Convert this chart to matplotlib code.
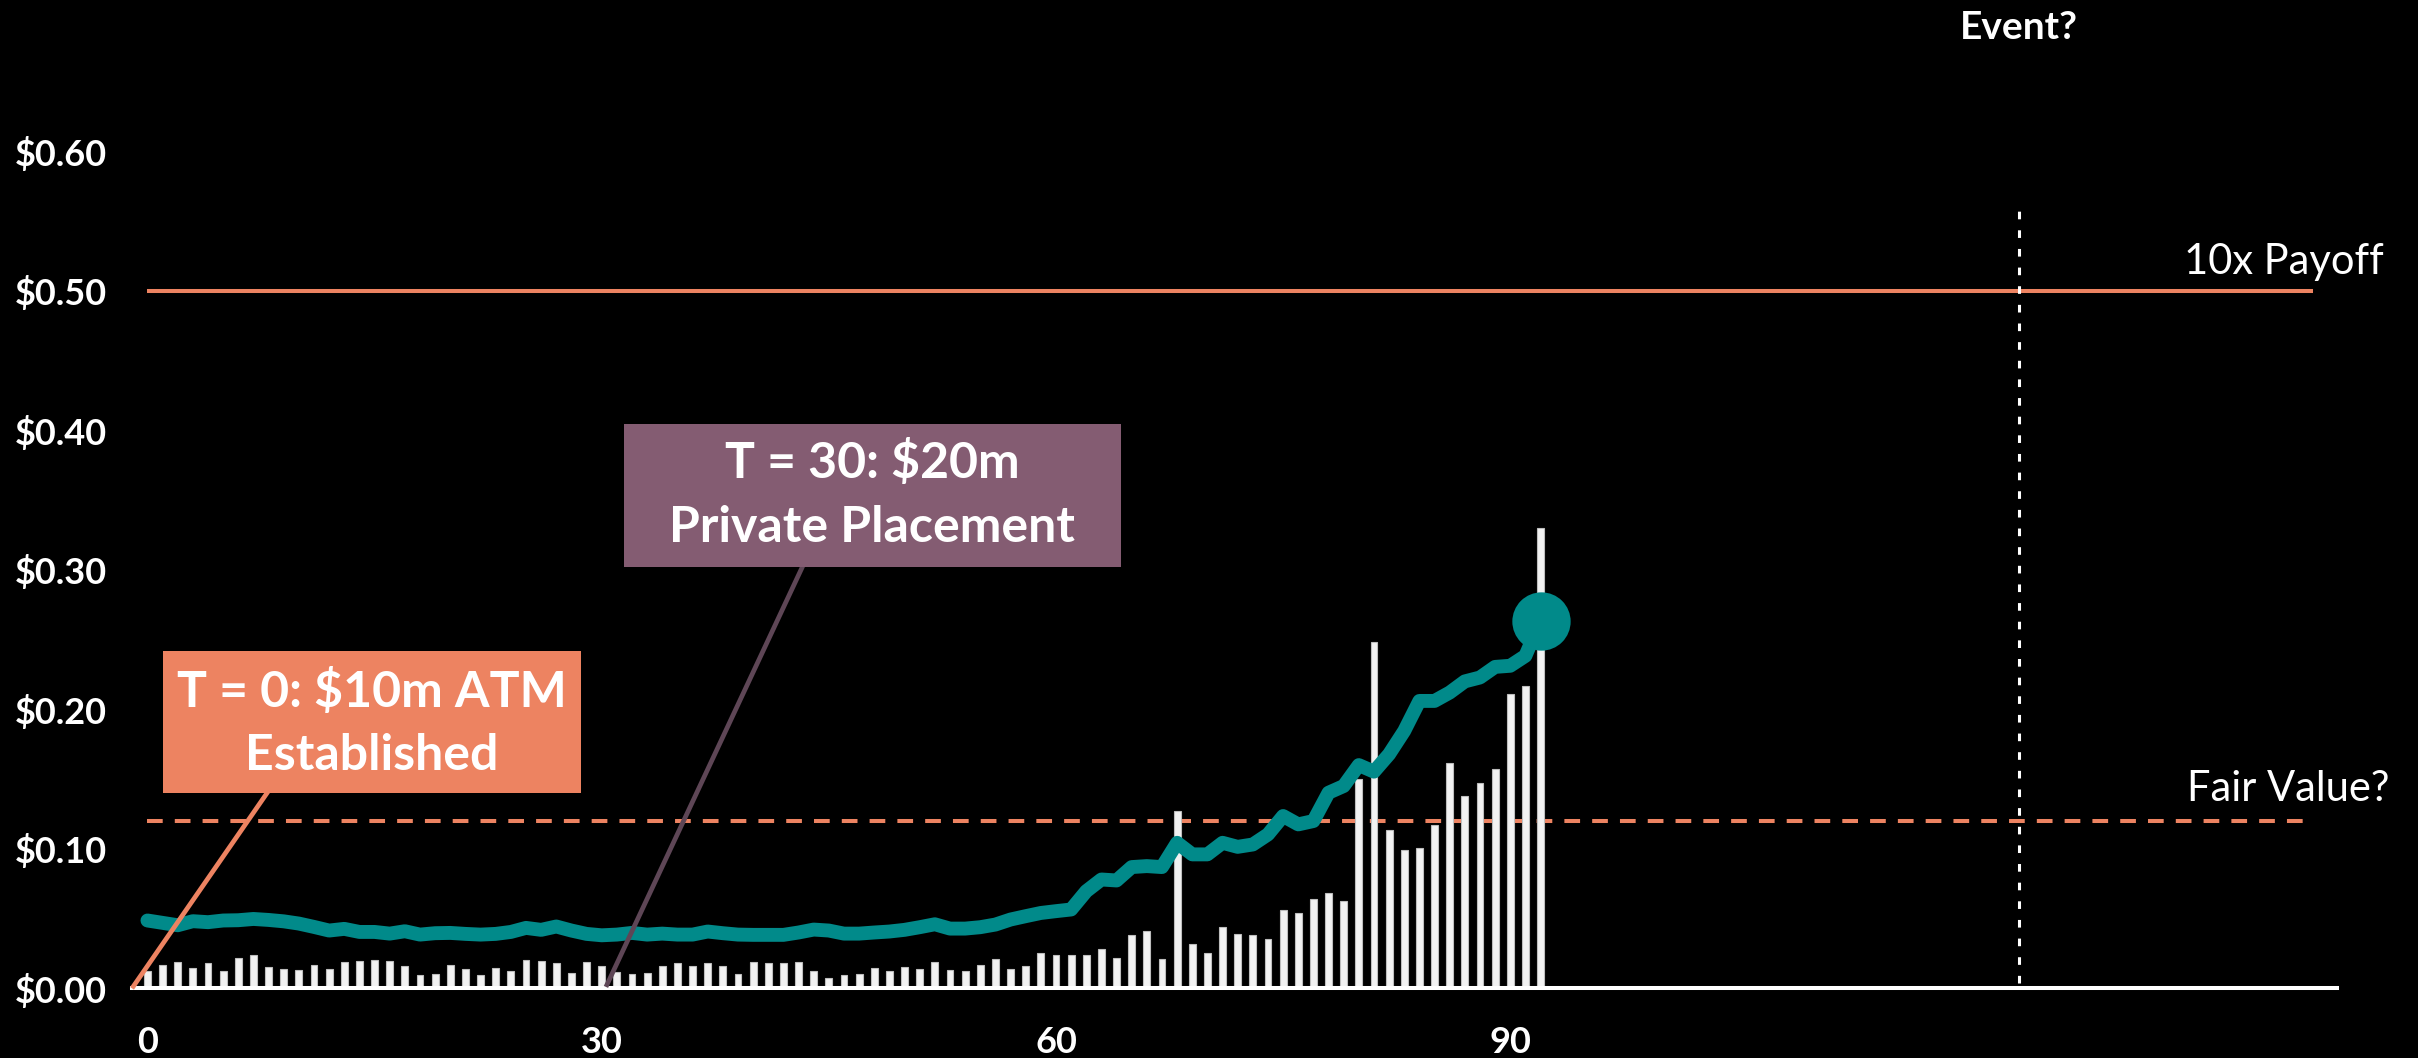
import matplotlib
matplotlib.use("Agg")
import matplotlib.pyplot as plt
from matplotlib.patches import Rectangle

plt.rcParams['font.family'] = ['Lato', 'DejaVu Sans']

# ---------------- data ----------------
days = list(range(93))
price = [0.0486, 0.0469, 0.0452, 0.0481, 0.0474, 0.0486, 0.0488, 0.0497, 0.0490, 0.0480,
         0.0464, 0.0440, 0.0414, 0.0426, 0.0404, 0.0404, 0.0392, 0.0409, 0.0385, 0.0395,
         0.0397, 0.0390, 0.0385, 0.0390, 0.0404, 0.0433, 0.0419, 0.0443, 0.0414, 0.0390,
         0.0380, 0.0385, 0.0397, 0.0385, 0.0392, 0.0385, 0.0385, 0.0407, 0.0395, 0.0385,
         0.0383, 0.0383, 0.0383, 0.0400, 0.0421, 0.0414, 0.0392, 0.0392, 0.0400, 0.0407,
         0.0419, 0.0438, 0.0459, 0.0428, 0.0428, 0.0438, 0.0457, 0.0493, 0.0517, 0.0540,
         0.0553, 0.0565, 0.0696, 0.0780, 0.0773, 0.0869, 0.0876, 0.0869, 0.1043, 0.0960,
         0.0960, 0.1043, 0.1014, 0.1031, 0.1103, 0.1235, 0.1175, 0.1199, 0.1402, 0.1450,
         0.1600, 0.1553, 0.1678, 0.1845, 0.2060, 0.2060, 0.2120, 0.2200, 0.2228, 0.2304,
         0.2312, 0.2383, 0.2635]
volume = [0.0127, 0.0167, 0.0189, 0.0148, 0.0180, 0.0124, 0.0215, 0.0239, 0.0156, 0.0141,
          0.0132, 0.0167, 0.0141, 0.0187, 0.0199, 0.0201, 0.0196, 0.0160, 0.0096, 0.0101,
          0.0167, 0.0141, 0.0096, 0.0148, 0.0124, 0.0206, 0.0194, 0.0180, 0.0112, 0.0191,
          0.0158, 0.0115, 0.0103, 0.0108, 0.0160, 0.0182, 0.0158, 0.0182, 0.0160, 0.0103,
          0.0191, 0.0182, 0.0182, 0.0187, 0.0122, 0.0077, 0.0096, 0.0105, 0.0148, 0.0124,
          0.0153, 0.0141, 0.0191, 0.0134, 0.0127, 0.0165, 0.0211, 0.0139, 0.0158, 0.0251,
          0.0242, 0.0242, 0.0239, 0.0282, 0.0218, 0.0383, 0.0414, 0.0210, 0.1273, 0.0321,
          0.0251, 0.0440, 0.0390, 0.0383, 0.0354, 0.0562, 0.0538, 0.0641, 0.0680, 0.0625,
          0.1500, 0.2480, 0.1137, 0.0991, 0.1003, 0.1173, 0.1615, 0.1380, 0.1470, 0.1575,
          0.2108, 0.2170, 0.3300]

y_ticks = [0.0, 0.1, 0.2, 0.3, 0.4, 0.5, 0.6]
y_tick_labels = ["$0.00", "$0.10", "$0.20", "$0.30", "$0.40", "$0.50", "$0.60"]
x_ticks = [0, 30, 60, 90]
x_tick_labels = ["0", "30", "60", "90"]

payoff_level = 0.50
fair_value_level = 0.12
ref_line_days = [0, 143]
event_day = 123.6
event_line_top = 0.56

# ---------------- style ----------------
TEAL = '#018A8A'
SALMON = '#ED8361'
MAUVE = '#845C72'
MAUVE_DARK = '#5E4656'
WHITE = 'white'

W, H = 2418, 1058
fig = plt.figure(figsize=(W / 100, H / 100), dpi=100, facecolor='black')
ax = fig.add_axes([132 / W, 69.7 / H, 2205 / W, 0.65 * 1395 / H])
ax.set_facecolor('black')
ax.set_xlim(-1.02, 144.6)
ax.set_ylim(0, 0.65)

# reference lines
ax.plot(ref_line_days, [payoff_level] * 2, color=SALMON, lw=2.9, zorder=2,
        solid_capstyle='butt')
ax.plot(ref_line_days, [fair_value_level] * 2, color=SALMON, lw=2.9, zorder=2,
        dashes=(3.9, 3.0), dash_capstyle='butt')
ax.plot([event_day] * 2, [0.004, event_line_top], color=WHITE, lw=2.2, zorder=2,
        dashes=(2.5, 3.6))

# volume bars
ax.bar(days, volume, width=0.45, color='#F2F2F2', edgecolor='#BDBDBD',
       linewidth=0.8, zorder=3)

# price line
ax.plot(days, price, color=TEAL, lw=10, solid_capstyle='round',
        solid_joinstyle='round', zorder=5)
ax.plot(days[-1:], price[-1:], 'o', ms=42, color=TEAL, mew=0, zorder=6)

# annotation connectors
ax.annotate('', xy=(-1.02, 0.0), xytext=(14.3, 0.2405),
            arrowprops=dict(arrowstyle='-', color=SALMON, lw=3.4,
                            shrinkA=0, shrinkB=0, capstyle='butt'),
            zorder=7, annotation_clip=False)
ax.annotate('', xy=(30.28, 0.001), xytext=(47.6, 0.4030),
            arrowprops=dict(arrowstyle='-', color=MAUVE_DARK, lw=3.4,
                            shrinkA=0, shrinkB=0, capstyle='butt'),
            zorder=7, annotation_clip=False)

# annotation boxes
ax.add_patch(Rectangle((1.02, 0.1400), 28.63 - 1.02, 0.2418 - 0.1400,
                       facecolor=SALMON, edgecolor='none', zorder=8))
ax.text(14.83, 0.2126, "T = 0: $10m ATM", color=WHITE, fontsize=36,
        fontweight='bold', ha='center', va='center', zorder=9)
ax.text(14.83, 0.1672, "Established", color=WHITE, fontsize=36,
        fontweight='bold', ha='center', va='center', zorder=9)

ax.add_patch(Rectangle((31.47, 0.3020), 64.3 - 31.47, 0.4045 - 0.3020,
                       facecolor=MAUVE, edgecolor='none', zorder=8))
ax.text(47.85, 0.3766, "T = 30: $20m", color=WHITE, fontsize=36,
        fontweight='bold', ha='center', va='center', zorder=9)
ax.text(47.85, 0.3300, "Private Placement", color=WHITE, fontsize=36,
        fontweight='bold', ha='center', va='center', zorder=9)

# side labels
ax.text(147.7, 0.521, "10x Payoff", color=WHITE, fontsize=30, fontweight='normal',
        ha='right', va='center', clip_on=False)
ax.text(148.1, 0.143, "Fair Value?", color=WHITE, fontsize=30, fontweight='normal',
        ha='right', va='center', clip_on=False)
ax.text(event_day, 0.689, "Event?", color=WHITE, fontsize=28, fontweight='bold',
        ha='center', va='center', clip_on=False)

# axes
for s in ['top', 'right', 'left']:
    ax.spines[s].set_visible(False)
ax.spines['bottom'].set_color(WHITE)
ax.spines['bottom'].set_linewidth(2.9)
ax.spines['bottom'].set_zorder(4)

ax.set_yticks(y_ticks)
ax.set_yticklabels(y_tick_labels)
ax.set_xticks(x_ticks)
ax.set_xticklabels(x_tick_labels)
ax.tick_params(axis='y', length=0, pad=18, labelsize=26, labelcolor=WHITE)
ax.tick_params(axis='x', length=0, pad=27, labelsize=26, labelcolor=WHITE)
for lab in ax.get_xticklabels() + ax.get_yticklabels():
    lab.set_fontweight('bold')

fig.savefig('out.png', dpi=100, facecolor='black')
